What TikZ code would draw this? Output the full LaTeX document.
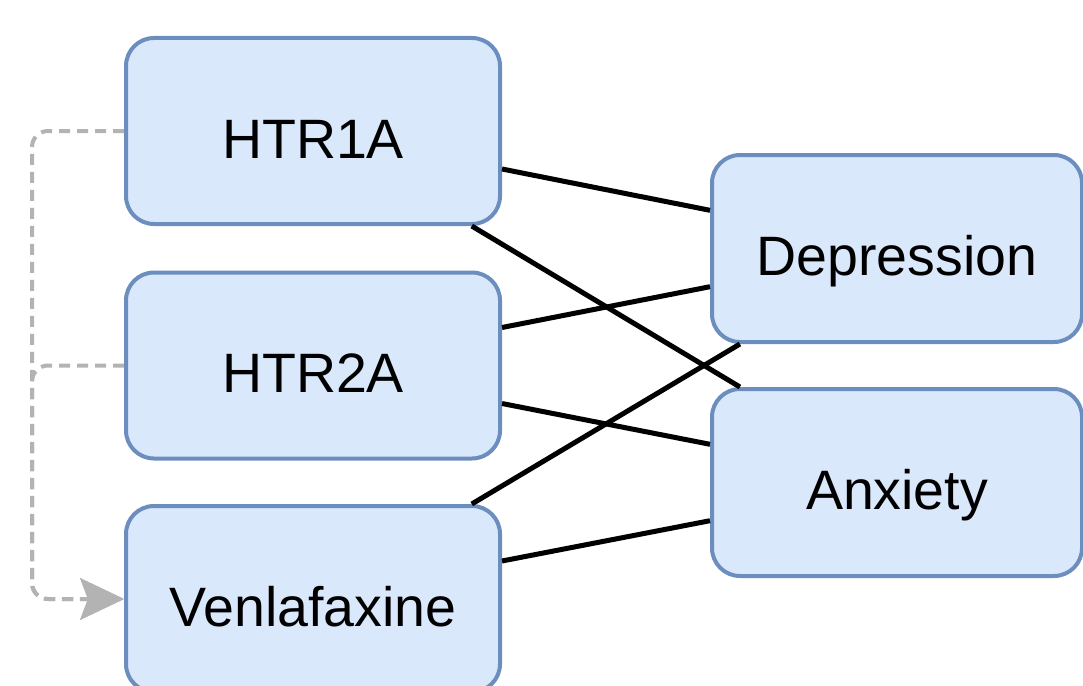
\documentclass[tikz,border=0pt]{standalone}
\usepackage{fontspec}
\setmainfont{Liberation Sans}
\usetikzlibrary{calc,arrows.meta}
\definecolor{boxfill}{HTML}{DAE8FC}
\definecolor{boxline}{HTML}{6C8EBF}
\definecolor{dashgray}{HTML}{B3B3B3}
\tikzset{
  gbox/.style={draw=boxline, fill=boxfill, line width=4pt, rounded corners=28pt,
    minimum width=374pt, minimum height=186pt, inner sep=0pt, anchor=center,
    text height=64pt, text depth=10pt,
    font=\fontsize{55.5}{66}\selectfont},
  rbox/.style={gbox, minimum width=370pt, minimum height=187pt},
  conn/.style={draw=black, line width=5pt},
  dashline/.style={draw=dashgray, line width=4pt, dash pattern=on 11pt off 7pt,
    rounded corners=16pt, -{Stealth[length=44pt,width=42pt,inset=8pt,fill=dashgray,line width=0pt]}}
}
\begin{document}
\begin{tikzpicture}[x=1pt,y=-1pt]
\useasboundingbox (0,0) rectangle (1083,685);
\node[gbox] (h1) at (313,131) {HTR1A};
\node[gbox] (h2) at (313,365.5) {HTR2A};
\node[gbox] (ven) at (313,599) {Venlafaxine};
\node[rbox] (dep) at (897,248.5) {Depression};
\node[rbox] (anx) at (897,482.5) {Anxiety};
\coordinate (lx) at (32,0);
% connectors
\draw[conn] ($(h1.north east)!0.7!(h1.south east)$) -- ($(dep.north west)!0.3!(dep.south west)$);
\draw[conn] ($(h1.south west)!0.92!(h1.south east)$) -- ($(anx.north west)!0.08!(anx.north east)$);
\draw[conn] ($(h2.north east)!0.3!(h2.south east)$) -- ($(dep.north west)!0.7!(dep.south west)$);
\draw[conn] ($(h2.north east)!0.7!(h2.south east)$) -- ($(anx.north west)!0.3!(anx.south west)$);
\draw[conn] ($(ven.north west)!0.92!(ven.north east)$) -- ($(dep.south west)!0.08!(dep.south east)$);
\draw[conn] ($(ven.north east)!0.3!(ven.south east)$) -- ($(anx.north west)!0.7!(anx.south west)$);
% dashed feedback
\draw[dashline] (h1.west) -| (lx |- ven.west) -- (ven.west);
\draw[dashline] (h2.west) -| (lx |- ven.west) -- (ven.west);
\end{tikzpicture}
\end{document}
